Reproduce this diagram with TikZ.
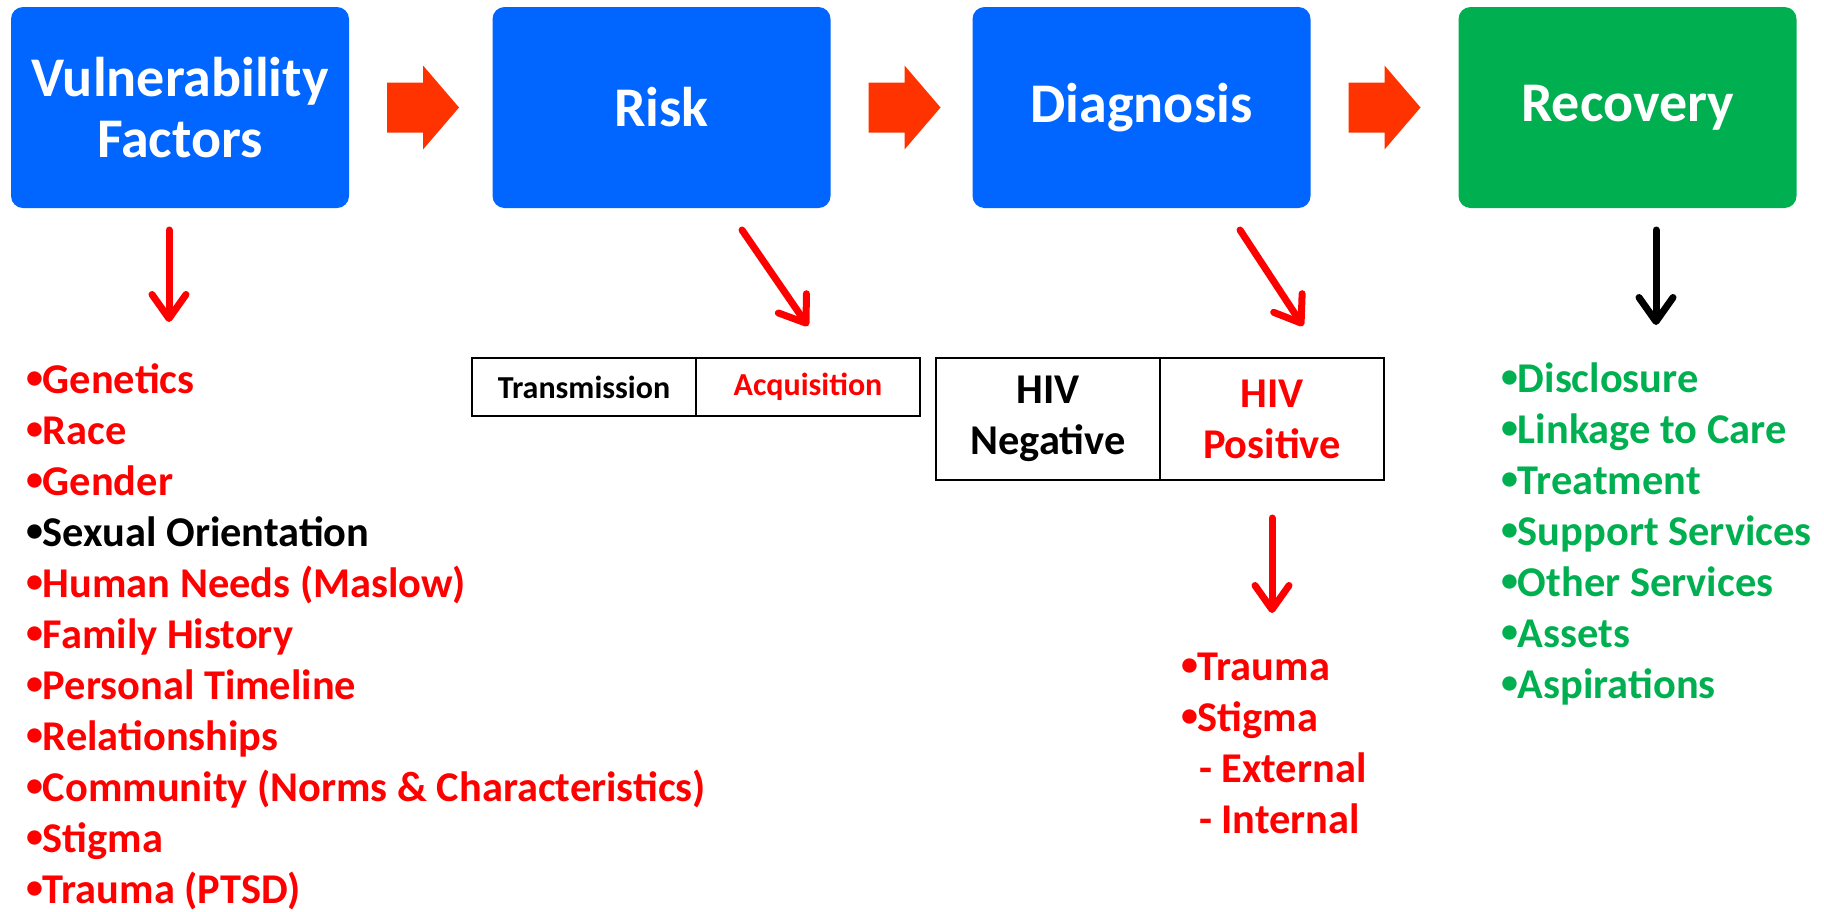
\documentclass[tikz,border=0pt]{standalone}
\usepackage{fontspec}
\setmainfont{Carlito}
\usetikzlibrary{positioning,arrows.meta}
\definecolor{stageblue}{HTML}{0066FF}
\definecolor{stagegreen}{HTML}{00B050}
\definecolor{listred}{HTML}{FF0000}
\definecolor{flowred}{HTML}{FF3300}
\newcommand\dotitem{\raisebox{2.3pt}{\scalebox{0.8}{•}}}

\begin{document}
\begin{tikzpicture}[x=0.5pt, y=-0.5pt,
      every node/.style = {inner sep=0pt, outer sep=0pt, font=\bfseries},
      stage/.style = {shape=rectangle, rounded corners=6pt, fill=stageblue,
        text=white, align=center, minimum width=169pt, minimum height=100.5pt,
        font=\fontsize{28pt}{30.5pt}\selectfont\bfseries},
      cell/.style = {shape=rectangle, draw, line width=1pt, align=center,
        minimum width=112pt},
      items/.style = {anchor=base west, align=left,
        font=\fontsize{21.2pt}{25.5pt}\selectfont\bfseries},
      pointer/.style = {line width=3.5pt, line cap=round,
        -{Straight Barb[round, length=12pt, width=17pt]}},
      flow/.style = {fill=flowred}]
    \useasboundingbox (0,0) rectangle (1824,911);

    % stages
    \node[stage] (vuln) at (180,107.5) {Vulnerability\\Factors};
    \node[stage] (risk) at (661.5,107.5) {Risk};
    \node[stage] (diag) at (1141.5,107.5) {Diagnosis};
    \node[stage, fill=stagegreen] (recov) at (1627.5,107.5) {Recovery};

    % block arrows between stages
    \foreach \s in {vuln,risk,diag}
      \fill[flow] ([xshift=19pt,yshift=12.5pt]\s.east) -- ++(18pt,0) -- ++(0,8.5pt)
        -- ++(18pt,-21pt) -- ++(-18pt,-21pt) -- ++(0,8.5pt) -- ++(-18pt,0) -- cycle;

    % risk and diagnosis tables
    \node[cell, minimum height=29pt, font=\fontsize{16pt}{18pt}\selectfont\bfseries]
      (trans) at (584,387) {Transmission};
    \node[cell, minimum height=29pt, font=\fontsize{16pt}{18pt}\selectfont\bfseries,
      text=listred, right=0pt of trans] (acq) {Acquisition};
    \node[cell, minimum height=61pt, font=\fontsize{21.2pt}{25.5pt}\selectfont\bfseries]
      (neg) at (1048,419) {HIV\\Negative};
    \node[cell, minimum height=61pt, font=\fontsize{21.2pt}{25.5pt}\selectfont\bfseries,
      text=listred, right=0pt of neg] (pos) {HIV\\Positive};

    % lists (placed at the baseline of their last line)
    \node[items, text=listred] (factors) at (26,903)
      {\dotitem Genetics\\\dotitem Race\\\dotitem Gender\\
       \textcolor{black}{\dotitem Sexual Orientation}\\
       \dotitem Human Needs (Maslow)\\\dotitem Family History\\
       \dotitem Personal Timeline\\\dotitem Relationships\\
       \dotitem Community (Norms \& Characteristics)\\\dotitem Stigma\\
       \dotitem Trauma (PTSD)};
    \node[items, text=listred] (effects) at (1181,833)
      {\dotitem Trauma\\\dotitem Stigma\\\hspace*{9pt}- External\\\hspace*{9pt}- Internal};
    \node[items, text=stagegreen] (services) at (1501,698)
      {\dotitem Disclosure\\\dotitem Linkage to Care\\\dotitem Treatment\\
       \dotitem Support Services\\\dotitem Other Services\\\dotitem Assets\\
       \dotitem Aspirations};

    % pointers
    \coordinate (vulnTail) at (169,230);
    \coordinate (vulnTip) at (169,322);
    \coordinate (riskTail) at (742,230);
    \coordinate (riskTip) at (808,326);
    \coordinate (diagTail) at (1240,230);
    \coordinate (diagTip) at (1303,326);
    \coordinate (posTail) at (1272,518);
    \coordinate (posTip) at (1272,613);
    \coordinate (recovTail) at (1656,230);
    \coordinate (recovTip) at (1656,325);
    \draw[pointer, listred] (vulnTail) -- (vulnTip);
    \draw[pointer, listred] (riskTail) -- (riskTip);
    \draw[pointer, listred] (diagTail) -- (diagTip);
    \draw[pointer, listred] (posTail) -- (posTip);
    \draw[pointer, black] (recovTail) -- (recovTip);
  \end{tikzpicture}
\end{document}
